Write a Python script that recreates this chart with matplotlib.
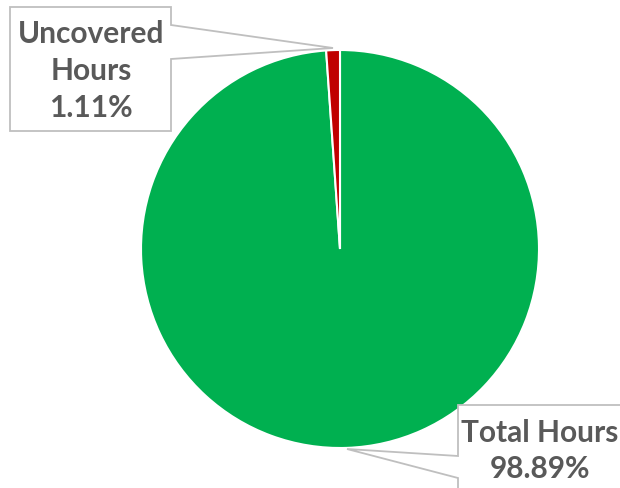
import matplotlib.pyplot as plt
from matplotlib.patches import Polygon

# data
labels = ["Total Hours", "Uncovered\nHours"]
values = [98.89, 1.11]
colores = ["#00B050", "#C00000"]

W, H = 620, 488
fig = plt.figure(figsize=(W / 100, H / 100), dpi=100)

# pie drawn in an axes with normal y so the angles are right
pax = fig.add_axes([0, 0, 1, 1])
pax.pie(values, colors=colores, startangle=90, counterclock=False,
        center=(340, H - 249), radius=199,
        wedgeprops=dict(edgecolor="white", linewidth=1.5))
pax.set_xlim(0, W)
pax.set_ylim(0, H)
pax.set_aspect("auto")
pax.axis("off")

# callout boxes (on top), pixel coords with y downward
tax = fig.add_axes([0, 0, 1, 1])
tax.set_xlim(0, W)
tax.set_ylim(H, 0)
tax.axis("off")
gris = "#BFBFBF"
texto = "#595959"
fuente = ["Lato", "DejaVu Sans"]

caja1 = [(10, 7), (171, 7), (171, 25), (333, 48), (171, 59), (171, 131), (10, 131)]
tax.add_patch(Polygon(caja1, closed=True, facecolor="white", edgecolor=gris, linewidth=1.3))
tax.text(91, 71, f"{labels[1]}\n{values[1]:.2f}%", ha="center", va="center",
         fontsize=21.5, fontweight="bold", color=texto, family=fuente, linespacing=1.38)

caja2 = [(458, 405), (640, 405), (640, 500), (458, 500), (458, 478), (347, 449), (458, 456)]
tax.add_patch(Polygon(caja2, closed=True, facecolor="white", edgecolor=gris, linewidth=1.3))
tax.text(540, 451, f"{labels[0]}\n{values[0]:.2f}%", ha="center", va="center",
         fontsize=21.5, fontweight="bold", color=texto, family=fuente, linespacing=1.38)

fig.savefig("out.png", dpi=100)
